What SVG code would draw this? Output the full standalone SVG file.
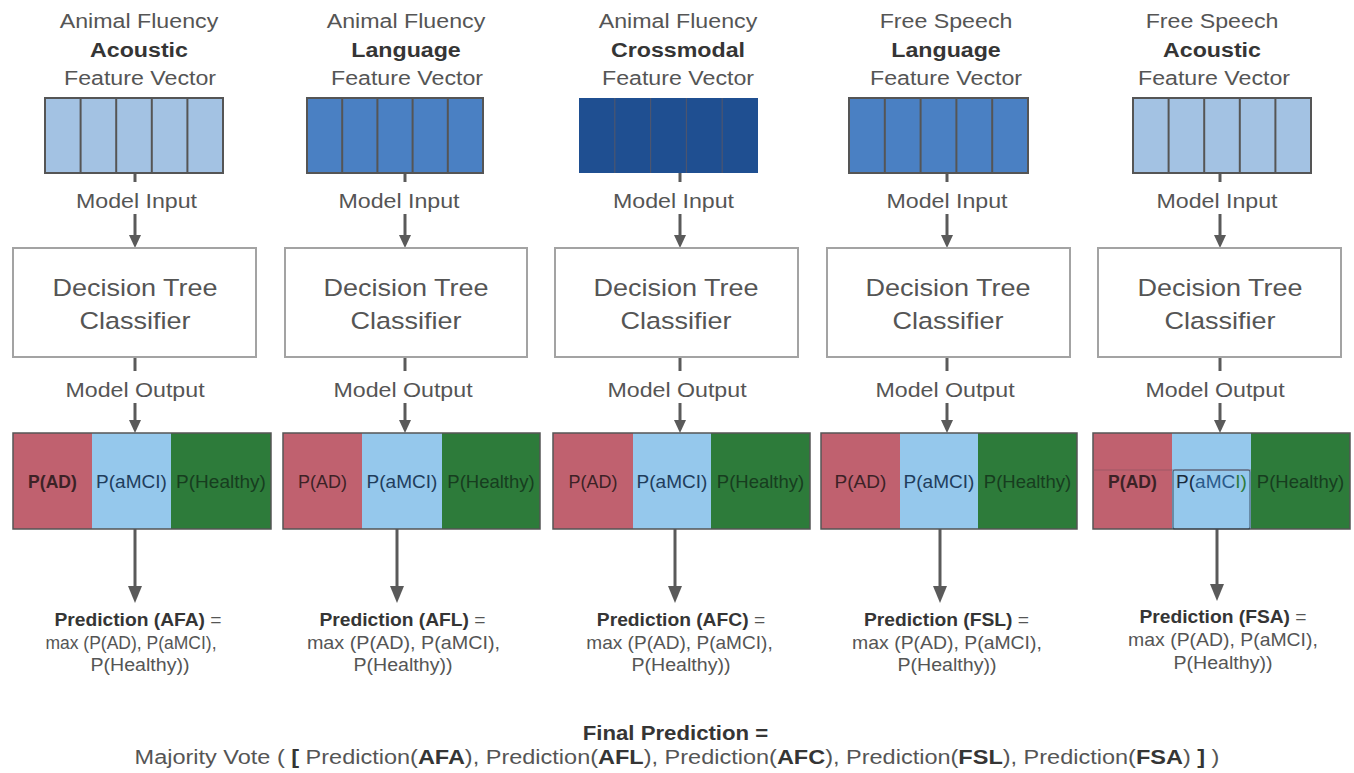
<svg xmlns="http://www.w3.org/2000/svg" width="1354" height="773" viewBox="0 0 1354 773">
<style>
text { font-family: "Liberation Sans", Arial, Helvetica, sans-serif; fill: #555; text-anchor: middle; }
.b { font-weight: bold; fill: #353535; }
.title { font-size: 20px; }
.io { font-size: 20px; }
.dt { font-size: 23.5px; }
.lab { font-size: 18.5px; }
.pred { font-size: 17.5px; }
.fin { font-size: 20px; }
.box { fill: #fff; stroke: #a3a3a3; stroke-width: 2; }
.vo { stroke: #555; stroke-width: 2; }
.dv { stroke: #555; stroke-width: 2; }
.dv3 { stroke: #6a5a5a; stroke-width: 1.2; opacity: 0.6; }
.light { fill: #a3c2e3; }
.mid { fill: #4a80c3; }
.dark { fill: #1f4f91; }
.red { fill: #c0616f; }
.blu { fill: #95c8ec; }
.grn { fill: #2d7b3a; }
.bar { fill: none; stroke: #555; stroke-width: 1.5; }
.lAD { fill: #3c2226; }
.lMC { fill: #1f3d5c; }
.lH { fill: #173d1f; }
.conn { stroke: #5a5a5a; stroke-width: 3; fill: none; }
</style>
<defs>
<marker id="ah" markerUnits="userSpaceOnUse" markerWidth="13" markerHeight="12" refX="0" refY="6" orient="auto" viewBox="0 0 13 12"><path d="M0,0 L13,6 L0,12 z" fill="#5a5a5a"/></marker>
<marker id="ahb" markerUnits="userSpaceOnUse" markerWidth="17" markerHeight="14" refX="0" refY="7" orient="auto" viewBox="0 0 17 14"><path d="M0,0 L17,7 L0,14 z" fill="#5a5a5a"/></marker>
</defs>
<rect width="1354" height="773" fill="#fff"/>

<g id="connectors">
  <line class="conn" x1="135" y1="173" x2="135" y2="182"/>
  <line class="conn" x1="135" y1="214" x2="135" y2="235" marker-end="url(#ah)"/>
  <line class="conn" x1="135" y1="357" x2="135" y2="371"/>
  <line class="conn" x1="135" y1="403" x2="135" y2="420" marker-end="url(#ah)"/>
  <line class="conn" x1="135" y1="529" x2="135" y2="586" marker-end="url(#ahb)"/>
  <line class="conn" x1="405" y1="173" x2="405" y2="182"/>
  <line class="conn" x1="405" y1="214" x2="405" y2="235" marker-end="url(#ah)"/>
  <line class="conn" x1="405" y1="357" x2="405" y2="371"/>
  <line class="conn" x1="405" y1="403" x2="405" y2="420" marker-end="url(#ah)"/>
  <line class="conn" x1="397" y1="529" x2="397" y2="586" marker-end="url(#ahb)"/>
  <line class="conn" x1="680" y1="173" x2="680" y2="182"/>
  <line class="conn" x1="680" y1="214" x2="680" y2="235" marker-end="url(#ah)"/>
  <line class="conn" x1="680" y1="357" x2="680" y2="371"/>
  <line class="conn" x1="680" y1="403" x2="680" y2="420" marker-end="url(#ah)"/>
  <line class="conn" x1="675" y1="529" x2="675" y2="586" marker-end="url(#ahb)"/>
  <line class="conn" x1="947" y1="173" x2="947" y2="182"/>
  <line class="conn" x1="947" y1="214" x2="947" y2="235" marker-end="url(#ah)"/>
  <line class="conn" x1="947" y1="357" x2="947" y2="371"/>
  <line class="conn" x1="947" y1="403" x2="947" y2="420" marker-end="url(#ah)"/>
  <line class="conn" x1="940" y1="529" x2="940" y2="586" marker-end="url(#ahb)"/>
  <line class="conn" x1="1220" y1="173" x2="1220" y2="182"/>
  <line class="conn" x1="1220" y1="214" x2="1220" y2="235" marker-end="url(#ah)"/>
  <line class="conn" x1="1220" y1="357" x2="1220" y2="371"/>
  <line class="conn" x1="1220" y1="403" x2="1220" y2="420" marker-end="url(#ah)"/>
  <line class="conn" x1="1217" y1="529" x2="1217" y2="584" marker-end="url(#ahb)"/>
</g>

<!-- ===== Column 1 ===== -->
<g id="afa-title">
  <text class="title" transform="matrix(1.16 0 0 1 139 28)">Animal Fluency</text>
  <text class="title b" transform="matrix(1.16 0 0 1 139 57)">Acoustic</text>
  <text class="title" transform="matrix(1.16 0 0 1 140 85)">Feature Vector</text>
</g>
<g id="afa-vector">
  <rect class="light vo" x="45" y="98" width="178" height="75"/>
  <line class="dv" x1="80.6" y1="98" x2="80.6" y2="173"/>
  <line class="dv" x1="116.2" y1="98" x2="116.2" y2="173"/>
  <line class="dv" x1="151.8" y1="98" x2="151.8" y2="173"/>
  <line class="dv" x1="187.4" y1="98" x2="187.4" y2="173"/>
</g>
<text class="io" transform="matrix(1.16 0 0 1 136.5 208)">Model Input</text>
<g id="afa-classifier">
  <rect class="box" x="13" y="248" width="243" height="109"/>
  <text class="dt" transform="matrix(1.15 0 0 1 135 296)">Decision Tree</text>
  <text class="dt" transform="matrix(1.15 0 0 1 135 329)">Classifier</text>
</g>
<text class="io" transform="matrix(1.16 0 0 1 135 397)">Model Output</text>
<g id="afa-output">
  <rect class="red" x="13" y="433" width="79" height="96"/>
  <rect class="blu" x="92" y="433" width="79" height="96"/>
  <rect class="grn" x="171" y="433" width="100" height="96"/>
  <rect class="bar" x="13" y="433" width="258" height="96"/>
  <text class="lab lAD" style="font-weight:bold" transform="matrix(0.95 0 0 1 52.5 488)">P(AD)</text>
  <text class="lab lMC" transform="matrix(1.03 0 0 1 131.5 488)">P(aMCI)</text>
  <text class="lab lH" transform="matrix(1.03 0 0 1 221 488)">P(Healthy)</text>
</g>
<g id="afa-prediction">
  <text class="pred" transform="matrix(1.1 0 0 1 138 626)"><tspan class="b">Prediction (AFA)</tspan> =</text>
  <text class="pred" transform="matrix(1.0 0 0 1 131 649)">max (P(AD), P(aMCI),</text>
  <text class="pred" transform="matrix(1.12 0 0 1 140 671)">P(Healthy))</text>
</g>

<!-- ===== Column 2 ===== -->
<g id="afl-title">
  <text class="title" transform="matrix(1.16 0 0 1 406 28)">Animal Fluency</text>
  <text class="title b" transform="matrix(1.16 0 0 1 406 57)">Language</text>
  <text class="title" transform="matrix(1.16 0 0 1 407 85)">Feature Vector</text>
</g>
<g id="afl-vector">
  <rect class="mid vo" x="307" y="98" width="176" height="75"/>
  <line class="dv" x1="342.2" y1="98" x2="342.2" y2="173"/>
  <line class="dv" x1="377.4" y1="98" x2="377.4" y2="173"/>
  <line class="dv" x1="412.6" y1="98" x2="412.6" y2="173"/>
  <line class="dv" x1="447.8" y1="98" x2="447.8" y2="173"/>
</g>
<text class="io" transform="matrix(1.16 0 0 1 399 208)">Model Input</text>
<g id="afl-classifier">
  <rect class="box" x="285" y="248" width="242" height="109"/>
  <text class="dt" transform="matrix(1.15 0 0 1 406 296)">Decision Tree</text>
  <text class="dt" transform="matrix(1.15 0 0 1 406 329)">Classifier</text>
</g>
<text class="io" transform="matrix(1.16 0 0 1 403 397)">Model Output</text>
<g id="afl-output">
  <rect class="red" x="283" y="433" width="79" height="96"/>
  <rect class="blu" x="362" y="433" width="80" height="96"/>
  <rect class="grn" x="442" y="433" width="98" height="96"/>
  <rect class="bar" x="283" y="433" width="257" height="96"/>
  <text class="lab lAD" transform="matrix(0.97 0 0 1 322.5 488)">P(AD)</text>
  <text class="lab lMC" transform="matrix(1.03 0 0 1 402 488)">P(aMCI)</text>
  <text class="lab lH" transform="matrix(1.0 0 0 1 491 488)">P(Healthy)</text>
</g>
<g id="afl-prediction">
  <text class="pred" transform="matrix(1.1 0 0 1 402.5 626)"><tspan class="b">Prediction (AFL)</tspan> =</text>
  <text class="pred" transform="matrix(1.13 0 0 1 403.5 649)">max (P(AD), P(aMCI),</text>
  <text class="pred" transform="matrix(1.12 0 0 1 403 671)">P(Healthy))</text>
</g>

<!-- ===== Column 3 ===== -->
<g id="afc-title">
  <text class="title" transform="matrix(1.16 0 0 1 678 28)">Animal Fluency</text>
  <text class="title b" transform="matrix(1.16 0 0 1 678 57)">Crossmodal</text>
  <text class="title" transform="matrix(1.16 0 0 1 678 85)">Feature Vector</text>
</g>
<g id="afc-vector">
  <rect class="dark" x="579" y="98" width="179" height="75"/>
  <line class="dv3" x1="614.8" y1="98" x2="614.8" y2="173"/>
  <line class="dv3" x1="650.6" y1="98" x2="650.6" y2="173"/>
  <line class="dv3" x1="686.4" y1="98" x2="686.4" y2="173"/>
  <line class="dv3" x1="722.2" y1="98" x2="722.2" y2="173"/>
</g>
<text class="io" transform="matrix(1.16 0 0 1 673.5 208)">Model Input</text>
<g id="afc-classifier">
  <rect class="box" x="555" y="248" width="243" height="109"/>
  <text class="dt" transform="matrix(1.15 0 0 1 676 296)">Decision Tree</text>
  <text class="dt" transform="matrix(1.15 0 0 1 676 329)">Classifier</text>
</g>
<text class="io" transform="matrix(1.16 0 0 1 677 397)">Model Output</text>
<g id="afc-output">
  <rect class="red" x="553" y="433" width="80" height="96"/>
  <rect class="blu" x="633" y="433" width="78" height="96"/>
  <rect class="grn" x="711" y="433" width="99" height="96"/>
  <rect class="bar" x="553" y="433" width="257" height="96"/>
  <text class="lab lAD" transform="matrix(0.97 0 0 1 593 488)">P(AD)</text>
  <text class="lab lMC" transform="matrix(1.03 0 0 1 672 488)">P(aMCI)</text>
  <text class="lab lH" transform="matrix(1.0 0 0 1 760.5 488)">P(Healthy)</text>
</g>
<g id="afc-prediction">
  <text class="pred" transform="matrix(1.1 0 0 1 681 626)"><tspan class="b">Prediction (AFC)</tspan> =</text>
  <text class="pred" transform="matrix(1.09 0 0 1 679.5 649)">max (P(AD), P(aMCI),</text>
  <text class="pred" transform="matrix(1.12 0 0 1 681 671)">P(Healthy))</text>
</g>

<!-- ===== Column 4 ===== -->
<g id="fsl-title">
  <text class="title" transform="matrix(1.16 0 0 1 946 28)">Free Speech</text>
  <text class="title b" transform="matrix(1.16 0 0 1 946 57)">Language</text>
  <text class="title" transform="matrix(1.16 0 0 1 946 85)">Feature Vector</text>
</g>
<g id="fsl-vector">
  <rect class="mid vo" x="849" y="98" width="179" height="75"/>
  <line class="dv" x1="884.8" y1="98" x2="884.8" y2="173"/>
  <line class="dv" x1="920.6" y1="98" x2="920.6" y2="173"/>
  <line class="dv" x1="956.4" y1="98" x2="956.4" y2="173"/>
  <line class="dv" x1="992.2" y1="98" x2="992.2" y2="173"/>
</g>
<text class="io" transform="matrix(1.16 0 0 1 947 208)">Model Input</text>
<g id="fsl-classifier">
  <rect class="box" x="827" y="248" width="243" height="109"/>
  <text class="dt" transform="matrix(1.15 0 0 1 948 296)">Decision Tree</text>
  <text class="dt" transform="matrix(1.15 0 0 1 948 329)">Classifier</text>
</g>
<text class="io" transform="matrix(1.16 0 0 1 945 397)">Model Output</text>
<g id="fsl-output">
  <rect class="red" x="821" y="433" width="79" height="96"/>
  <rect class="blu" x="900" y="433" width="78" height="96"/>
  <rect class="grn" x="978" y="433" width="99" height="96"/>
  <rect class="bar" x="821" y="433" width="256" height="96"/>
  <text class="lab lAD" transform="matrix(1.03 0 0 1 860.5 488)">P(AD)</text>
  <text class="lab lMC" transform="matrix(1.03 0 0 1 939 488)">P(aMCI)</text>
  <text class="lab lH" transform="matrix(1.0 0 0 1 1027.5 488)">P(Healthy)</text>
</g>
<g id="fsl-prediction">
  <text class="pred" transform="matrix(1.1 0 0 1 946.5 626)"><tspan class="b">Prediction (FSL)</tspan> =</text>
  <text class="pred" transform="matrix(1.11 0 0 1 947 649)">max (P(AD), P(aMCI),</text>
  <text class="pred" transform="matrix(1.12 0 0 1 947 671)">P(Healthy))</text>
</g>

<!-- ===== Column 5 ===== -->
<g id="fsa-title">
  <text class="title" transform="matrix(1.16 0 0 1 1212 28)">Free Speech</text>
  <text class="title b" transform="matrix(1.16 0 0 1 1212 57)">Acoustic</text>
  <text class="title" transform="matrix(1.16 0 0 1 1214 85)">Feature Vector</text>
</g>
<g id="fsa-vector">
  <rect class="light vo" x="1133" y="98" width="178" height="75"/>
  <line class="dv" x1="1168.6" y1="98" x2="1168.6" y2="173"/>
  <line class="dv" x1="1204.2" y1="98" x2="1204.2" y2="173"/>
  <line class="dv" x1="1239.8" y1="98" x2="1239.8" y2="173"/>
  <line class="dv" x1="1275.4" y1="98" x2="1275.4" y2="173"/>
</g>
<text class="io" transform="matrix(1.16 0 0 1 1217 208)">Model Input</text>
<g id="fsa-classifier">
  <rect class="box" x="1098" y="248" width="243" height="109"/>
  <text class="dt" transform="matrix(1.15 0 0 1 1220 296)">Decision Tree</text>
  <text class="dt" transform="matrix(1.15 0 0 1 1220 329)">Classifier</text>
</g>
<text class="io" transform="matrix(1.16 0 0 1 1215 397)">Model Output</text>
<g id="fsa-output">
  <rect class="red" x="1093" y="433" width="79" height="96"/>
  <rect class="blu" x="1172" y="433" width="79" height="96"/>
  <rect class="grn" x="1251" y="433" width="99" height="96"/>
  <rect class="bar" x="1093" y="433" width="257" height="96"/>
  <line x1="1093" y1="470" x2="1251" y2="470" stroke="#8a5560" stroke-width="1" opacity="0.6"/>
  <rect x="1173" y="470" width="77" height="59" rx="2" fill="none" stroke="#2a3a4a" stroke-width="1.2" opacity="0.7"/>
  <text class="lab lAD" style="font-weight:bold" transform="matrix(0.95 0 0 1 1132.5 488)">P(AD)</text>
  <text class="lab" transform="matrix(1.03 0 0 1 1211.5 488)"><tspan fill="#1a2a3a">P(</tspan><tspan fill="#2a5a8a">aMC</tspan><tspan fill="#2d7b3a">I)</tspan></text>
  <text class="lab lH" transform="matrix(1.0 0 0 1 1300.5 488)">P(Healthy)</text>
</g>
<g id="fsa-prediction">
  <text class="pred" transform="matrix(1.1 0 0 1 1223 623)"><tspan class="b">Prediction (FSA)</tspan> =</text>
  <text class="pred" transform="matrix(1.11 0 0 1 1223 646)">max (P(AD), P(aMCI),</text>
  <text class="pred" transform="matrix(1.12 0 0 1 1223 669)">P(Healthy))</text>
</g>

<!-- ===== Final ===== -->
<g id="final-prediction">
  <text class="fin b" transform="matrix(1.11 0 0 1 675.5 740)">Final Prediction =</text>
  <text class="fin" transform="matrix(1.175 0 0 1 677 764)">Majority Vote ( <tspan class="b">[</tspan> Prediction(<tspan class="b">AFA</tspan>), Prediction(<tspan class="b">AFL</tspan>), Prediction(<tspan class="b">AFC</tspan>), Prediction(<tspan class="b">FSL</tspan>), Prediction(<tspan class="b">FSA</tspan>) <tspan class="b">]</tspan> )</text>
</g>
</svg>
